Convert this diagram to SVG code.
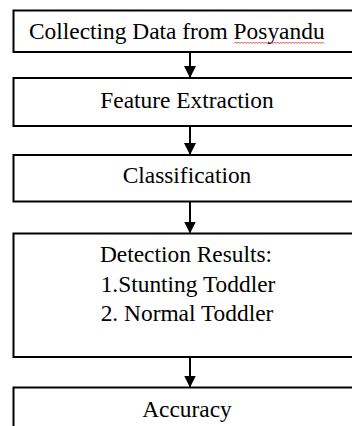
<svg xmlns="http://www.w3.org/2000/svg" width="352" height="426" viewBox="0 0 352 426">
<style>
.box{fill:#fff;stroke:#000;stroke-width:2}
.t{font-family:"Liberation Serif","Times New Roman",serif;font-size:23.4px;fill:#000}
.c{text-anchor:middle}
.ln{stroke:#000;stroke-width:2;fill:none}
</style>
<defs>
<marker id="ah" viewBox="0 0 12 12" refX="11" refY="6" markerWidth="12" markerHeight="12" markerUnits="userSpaceOnUse" orient="auto">
<path d="M0,0 L12,6 L0,12 Z" fill="#000"/>
</marker>
</defs>
<rect width="352" height="426" fill="#fff"/>
<g id="n1">
<rect class="box" x="13.5" y="10.5" width="360" height="41.5"/>
<text class="t" x="29" y="39">Collecting Data from Posyandu</text>
<path d="M234,43.5 l1.5,-1.5 l1.5,1.5 l1.5,-1.5 l1.5,1.5 l1.5,-1.5 l1.5,1.5 l1.5,-1.5 l1.5,1.5 l1.5,-1.5 l1.5,1.5 l1.5,-1.5 l1.5,1.5 l1.5,-1.5 l1.5,1.5 l1.5,-1.5 l1.5,1.5 l1.5,-1.5 l1.5,1.5 l1.5,-1.5 l1.5,1.5 l1.5,-1.5 l1.5,1.5 l1.5,-1.5 l1.5,1.5 l1.5,-1.5 l1.5,1.5 l1.5,-1.5 l1.5,1.5 l1.5,-1.5 l1.5,1.5 l1.5,-1.5 l1.5,1.5 l1.5,-1.5 l1.5,1.5 l1.5,-1.5 l1.5,1.5 l1.5,-1.5 l1.5,1.5 l1.5,-1.5 l1.5,1.5 l1.5,-1.5 l1.5,1.5 l1.5,-1.5 l1.5,1.5 l1.5,-1.5 l1.5,1.5 l1.5,-1.5 l1.5,1.5 l1.5,-1.5 l1.5,1.5 l1.5,-1.5 l1.5,1.5 l1.5,-1.5 l1.5,1.5 l1.5,-1.5 l1.5,1.5 l1.5,-1.5 l1.5,1.5 l1.5,-1.5 l1.5,1.5" fill="none" stroke="#e02020" stroke-width="0.8"/>
</g>
<g id="n2">
<rect class="box" x="13.5" y="78" width="360" height="48"/>
<text class="t c" x="187" y="107.5">Feature Extraction</text>
</g>
<g id="n3">
<rect class="box" x="13.5" y="155" width="360" height="46.5"/>
<text class="t c" x="187" y="182.5">Classification</text>
</g>
<g id="n4">
<rect class="box" x="13.5" y="233.5" width="360" height="123.5"/>
<text class="t c" x="186" y="261.5">Detection Results:</text>
<text class="t c" x="188" y="291.5">1.Stunting Toddler</text>
<text class="t c" x="187" y="320.5">2. Normal Toddler</text>
</g>
<g id="n5">
<rect class="box" x="13.5" y="387.5" width="360" height="60"/>
<text class="t c" x="187" y="416.5">Accuracy</text>
</g>
<g id="connectors">
<line class="ln" x1="190" y1="52" x2="190" y2="77" marker-end="url(#ah)"/>
<line class="ln" x1="190" y1="126" x2="190" y2="154" marker-end="url(#ah)"/>
<line class="ln" x1="190" y1="201.5" x2="190" y2="232.5" marker-end="url(#ah)"/>
<line class="ln" x1="190" y1="357" x2="190" y2="386.5" marker-end="url(#ah)"/>
</g>
</svg>
